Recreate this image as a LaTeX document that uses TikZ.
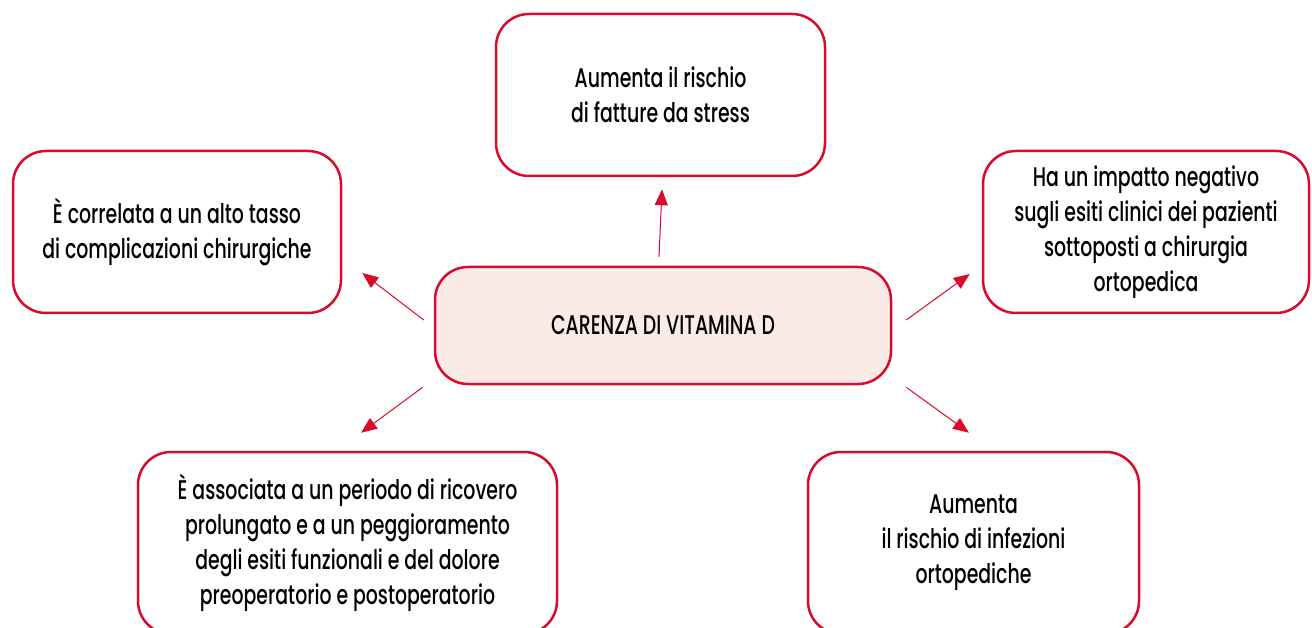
\documentclass[tikz,border=0pt]{standalone}
\usepackage{fontspec}
\setmainfont{Poppins}[UprightFont=* Medium, FakeStretch=0.7]
\usepackage{xcolor}
\usetikzlibrary{arrows.meta}
\usetikzlibrary{calc}
\definecolor{vitred}{RGB}{218,10,45}
\definecolor{vitpink}{RGB}{251,235,231}

\begin{document}
\begin{tikzpicture}[x=1pt,y=-1pt,
    box/.style={draw=vitred, line width=2.5pt, rounded corners=33pt, fill=white,
        align=center, inner sep=0pt, font=\fontsize{27}{35}\selectfont},
    link/.style={vitred, line width=1pt, -{Triangle[length=16pt,width=13pt]}}]
    \useasboundingbox (0,0) rectangle (1312,628);
    \node[box, fill=vitpink, minimum width=456pt, minimum height=117pt] (core) at (663,325.5) {CARENZA DI VITAMINA D};
    \node[box, minimum width=329pt, minimum height=162pt] (risk) at (660.5,95) {Aumenta il rischio\\di fatture da stress};
    \node[box, minimum width=328pt, minimum height=162pt] (compl) at (177,232) {È correlata a un alto tasso\\di complicazioni chirurgiche};
    \node[box, minimum width=326pt, minimum height=162pt] (outcome) at (1146,232) {Ha un impatto negativo\\sugli esiti clinici dei pazienti\\sottoposti a chirurgia\\ortopedica};
    \node[box, minimum width=419pt, minimum height=182pt] (stay) at (347.5,543) {È associata a un periodo di ricovero\\prolungato e a un peggioramento\\degli esiti funzionali e del dolore\\preoperatorio e postoperatorio};
    \node[box, minimum width=331pt, minimum height=182pt] (infect) at (973.5,543) {Aumenta\\il rischio di infezioni\\ortopediche};
    % frecce dal centro
    \draw[link] ($(core.north)+(-4,-9)$) -- ($(risk.south)+(1.5,12)$);
    \draw[link] ($(core.west)+(-10,-5.5)$) -- ($(compl.east)+(20,41)$);
    \draw[link] ($(core.south west)+(-11,2)$) -- ($(stay.north)+(13.5,-18)$);
    \draw[link] ($(core.east)+(14,-5.5)$) -- ($(outcome.west)+(-12,42)$);
    \draw[link] ($(core.south east)+(14,2)$) -- ($(infect.north)+(-4.5,-18)$);
\end{tikzpicture}
\end{document}
